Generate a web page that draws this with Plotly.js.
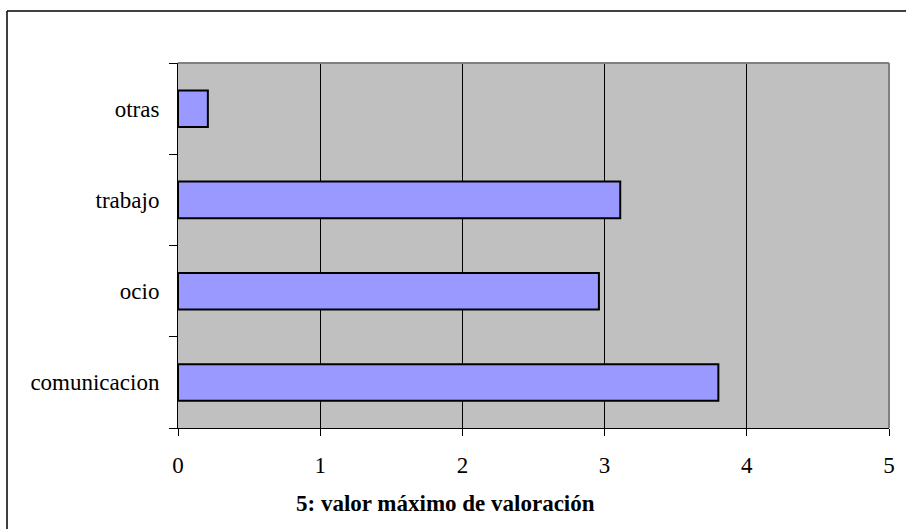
<!DOCTYPE html>
<html>
<head>
<meta charset="utf-8">
<script src="https://cdn.plot.ly/plotly-3.0.1.min.js"></script>
<style>html,body{margin:0;padding:0;background:#fff;}#chart{width:906px;height:529px;}</style>
</head>
<body>
<div id="chart"></div>
<script>
const categories = ["comunicacion", "ocio", "trabajo", "otras"];
const values = [3.80, 2.96, 3.11, 0.21];
const xTicks = [0, 1, 2, 3, 4, 5];
const xTitle = "5: valor máximo de valoración";

const W = 906, H = 529;
const L = 178, R = 889, T = 63, B = 428;
const pw = R - L, ph = B - T;
function px(x) { return (x - L) / pw; }
function py(y) { return (B - y) / ph; }
const FONT = "Liberation Serif";
const FS = 23;

const trace = {
  type: "bar",
  orientation: "h",
  x: values,
  y: categories,
  width: 0.4,
  marker: { color: "#9999ff", line: { color: "#000000", width: 2 } },
  hoverinfo: "none"
};

const layout = {
  width: W, height: H,
  margin: { l: L, r: W - R, t: T, b: H - B, pad: 0 },
  paper_bgcolor: "#ffffff",
  plot_bgcolor: "#c0c0c0",
  showlegend: false,
  font: { family: FONT, color: "#000000", size: FS },
  xaxis: {
    range: [0, 5],
    tickvals: xTicks,
    ticktext: xTicks.map(String),
    showgrid: true, gridcolor: "#000000", gridwidth: 1,
    zeroline: false,
    showline: true, linecolor: "#000000", linewidth: 1,
    ticks: "outside", ticklen: 7, tickcolor: "#000000", tickwidth: 1,
    ticklabelstandoff: 9,
    tickfont: { size: FS, family: FONT },
    fixedrange: true
  },
  yaxis: {
    type: "category",
    categoryorder: "array",
    categoryarray: categories,
    range: [-0.5, 3.5],
    showgrid: false,
    zeroline: false,
    showline: true, linecolor: "#000000", linewidth: 1,
    ticks: "outside", ticklen: 8, tickcolor: "#000000", tickwidth: 1,
    tickson: "boundaries",
    ticklabelstandoff: 13,
    tickfont: { size: FS, family: FONT },
    fixedrange: true
  },
  shapes: [
    { type: "line", xref: "paper", yref: "paper", x0: 0, x1: 1, y0: 1, y1: 1, line: { color: "#808080", width: 2 } },
    { type: "line", xref: "paper", yref: "paper", x0: 1, x1: 1, y0: 0, y1: 1, line: { color: "#808080", width: 2 } },
    { type: "line", xref: "paper", yref: "paper", x0: px(7), x1: px(7), y0: py(11), y1: py(540), line: { color: "#000000", width: 1.5 } },
    { type: "line", xref: "paper", yref: "paper", x0: px(7), x1: px(906), y0: py(11), y1: py(11), line: { color: "#000000", width: 1.5 } }
  ],
  annotations: [
    { text: "<b>" + xTitle + "</b>", xref: "paper", yref: "paper", x: px(445), y: py(503), xanchor: "center", yanchor: "middle", showarrow: false, font: { size: FS, family: FONT } }
  ]
};

Plotly.newPlot("chart", [trace], layout, { displayModeBar: false, staticPlot: true });
</script>
</body>
</html>
